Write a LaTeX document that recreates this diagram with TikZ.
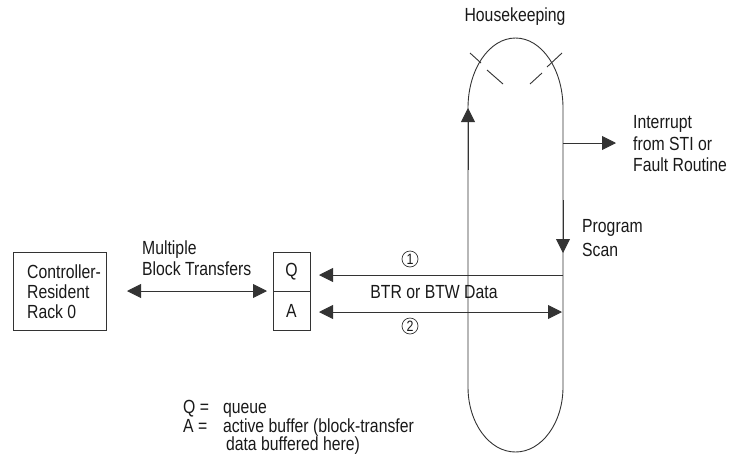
\documentclass[tikz,border=0pt]{standalone}
\usepackage{fontspec}
\setmainfont{Liberation Sans}[FakeStretch=0.83]
\usetikzlibrary{arrows.meta}
\tikzset{
  lbl/.style={font=\fontsize{19}{21.5}\selectfont, inner sep=0pt, text=black!90},
  txt/.style={lbl, align=left, anchor=west},
  ln/.style={draw=black!80, line width=0.9pt},
  tri/.style={-{Triangle[length=14pt,width=14pt]}},
  bitri/.style={{Triangle[length=14pt,width=14pt]}-{Triangle[length=14pt,width=14pt]}},
  boxnode/.style={lbl, draw=black!80, line width=0.9pt},
  circnum/.style={draw=black!80, line width=0.7pt, circle, minimum size=16pt, inner sep=0pt,
    font=\fontsize{15}{15}\selectfont, text=black!90}
}
\begin{document}
\begin{tikzpicture}[x=1pt,y=-1pt]
\useasboundingbox (0,0) rectangle (731,456);
% boxes
\node[boxnode, minimum width=93pt, minimum height=78pt] (rack) at (59.5,291) {};
\node[txt, font=\fontsize{19}{20}\selectfont] (racktxt) at (27,292) {Controller-\\Resident\\Rack 0};
\node[boxnode, minimum width=37pt, minimum height=39pt] (q) at (291.5,271.5) {Q};
\node[boxnode, minimum width=37pt, minimum height=39pt] (a) at (291.5,310.5) {A};
% coordinates
\coordinate (ml) at (127,291);
\coordinate (mr) at (267,291);
\coordinate (ltop) at (468,108);
\coordinate (lup) at (468,170);
\coordinate (rtop) at (563,108);
\coordinate (rbot) at (563,387);
\coordinate (scanA) at (563,200);
\coordinate (scanB) at (563,253);
\coordinate (intA) at (563,143);
\coordinate (intB) at (616,143);
\coordinate (b1a) at (563,275);
\coordinate (b1b) at (319,275);
\coordinate (b2a) at (319,312);
\coordinate (b2b) at (562,312);
% loop
\draw[ln] (ltop) arc[start angle=180,end angle=0,x radius=47.5pt,y radius=70pt]
  -- (rbot) arc[start angle=0,end angle=-180,x radius=47.5pt,y radius=65pt] -- cycle;
\draw[ln] (470,53) -- (481,63);
\draw[ln] (487,70) -- (503,84);
\draw[ln] (562,53) -- (547,67);
\draw[ln] (542,73) -- (530,84);
\draw[ln, tri] (lup) -- (ltop);
\draw[ln, tri] (scanA) -- (scanB);
\draw[ln, tri] (intA) -- (intB);
% transfers
\draw[ln, bitri] (ml) -- (mr);
\draw[ln, tri] (b1a) -- (b1b);
\draw[ln, bitri] (b2a) -- (b2b);
% labels
\node[lbl] (hk) at (515,17) {Housekeeping};
\node[txt] (intr) at (633,144) {Interrupt\\from STI or\\Fault Routine};
\node[txt] (ps) at (582,238) {Program\\[2pt]Scan};
\node[txt] (mbt) at (142,258) {Multiple\\Block Transfers};
\node[lbl] (btr) at (434,292) {BTR or BTW Data};
\node[circnum] (c1) at (410,259) {1};
\node[circnum] (c2) at (410,326) {2};
\node[txt, font=\fontsize{19}{17}\selectfont] (legend) at (183,428) {%
  \begin{tabular}{@{}l@{\hspace{14pt}}l@{}}
  Q = & queue\\
  A = & active buffer (block-transfer\\
      & \hspace{3pt}data buffered here)
  \end{tabular}};
\end{tikzpicture}
\end{document}
